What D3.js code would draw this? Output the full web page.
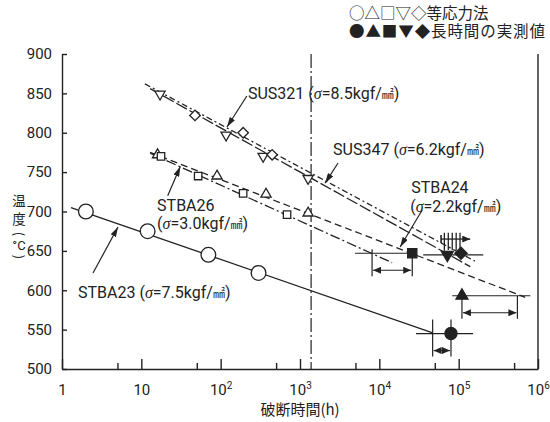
<!DOCTYPE html>
<html><head><meta charset="utf-8">
<script src="https://cdn.jsdelivr.net/npm/d3@7"></script>
<style>
body{margin:0;background:#fff}
.num{font-family:"Roboto","Liberation Sans",sans-serif}
.jp{font-family:"Noto Sans CJK JP","Noto Sans CJK SC",sans-serif}
</style></head>
<body><svg id="c" width="550" height="422"></svg>
<script>
// ---- data ----
const yTicks=[500,550,600,650,700,750,800,850,900];
const xMajor=[1,10,100,1e3,1e4,1e5,1e6];
const xMinor=[5,50,500,5e3,5e4,5e5];
const xLabels=[["1",""],["10",""],["10","2"],["10","3"],["10","4"],["10","5"],["10","6"]];
// equal-stress (open) points [hours, temp]
const stba23Pts=[[2,700],[12,675],[70,645],[300,622]];
const stba24Pts=[[16,772],[90,745],[373,722],[1265,698]];
const stba26Pts=[[17.7,770],[52,745],[192,723],[687,696]];
const sus347Pts=[[17.2,849],[117,797],[343,770],[1265,742]];
const sus321Pts=[[47.5,822],[192,800],[445,772]];
// fitted lines
const stba23Line=[[1.3,705],[4.7e4,546]];
const stba24Line=[[12.9,775],[6.9e5,591]];
const stba26Line=[[12.9,774],[1.45e4,635]];
const sus321Line=[[11.1,862],[1.6e5,637]];
const sus347Line=[[12.9,856],[1.4e5,630]];
const refHours=1380;
// long-time measured values
const measShape=["circle","triangle","square","triangleDown","diamond"];
const measHours=[8.0e4,1.1e5,2.6e4,7.2e4,1.07e5];
const measTemp=[545,593,647,645,647];
const predHours=[4.7e4,5.5e5,8.1e3,null,null];
const barFrom=[2.9e4,8.3e4,4.95e3,3.57e4,null];
const barTo=[1.52e5,8.0e5,2.8e4,2.04e5,null];
const hatchHours=[6.6e4,7.4e4,8.3e4,9.3e4,1.04e5];
const hatchTemp=[651,673];
const hatchArrow=[6.0e4,1.4e5,665];
// labels
const labels=[
 {name:"SUS321",sig:"8.5",at:[221,850.5],lead:[[214,846.7],[120,807.3]]},
 {name:"SUS347",sig:"6.2",at:[2610,779.4],lead:[[3020,761.6],[2070,736]]},
 {name:"STBA24",sig:"2.2",at:[2.52e4,731],at2:[2.45e4,707],lead:[[3.47e4,701.9],[1.83e4,655]]},
 {name:"STBA26",sig:"3.0",at:[15.8,708],at2:[15.8,685],lead:[[21.5,720],[31,757]]},
 {name:"STBA23",sig:"7.5",at:[1.59,597.7],lead:[[2.46,621.9],[5.08,680.3]]}
];

// ---- chart ----
const svg=d3.select("#c");
const ink="#222";
const x=d3.scaleLog().domain([1,1e6]).range([62,538]);
const y=d3.scaleLinear().domain([500,900]).range([369,54]);

const defs=svg.append("defs");
defs.append("marker").attr("id","ah").attr("viewBox","0 0 10 6").attr("refX",10).attr("refY",3)
 .attr("markerWidth",10).attr("markerHeight",6).attr("markerUnits","userSpaceOnUse").attr("orient","auto-start-reverse")
 .append("path").attr("d","M0,0L10,3L0,6Z").attr("fill",ink);
defs.append("marker").attr("id","ah2").attr("viewBox","0 0 8 7").attr("refX",8).attr("refY",3.5)
 .attr("markerWidth",8).attr("markerHeight",7).attr("markerUnits","userSpaceOnUse").attr("orient","auto-start-reverse")
 .append("path").attr("d","M0,0L8,3.5L0,7Z").attr("fill",ink);

// axes
const gy=svg.append("g").attr("transform",`translate(${x(1)},0)`)
 .call(d3.axisLeft(y).tickValues(yTicks).tickSize(-5).tickSizeOuter(0).tickPadding(10));
gy.selectAll("text").attr("class","num").style("font-size","15px").attr("fill",ink);
const gx=svg.append("g").attr("transform",`translate(0,${y(500)})`)
 .call(d3.axisBottom(x).tickValues(xMajor).tickSize(-10).tickSizeOuter(0).tickFormat(""));
svg.append("g").attr("transform",`translate(0,${y(500)})`)
 .call(d3.axisBottom(x).tickValues(xMinor).tickSize(-6).tickSizeOuter(0).tickFormat(""))
 .select(".domain").remove();
svg.selectAll(".domain,.tick line").attr("stroke",ink).attr("stroke-width",1.4);
gx.selectAll(".tick").each(function(d,i){
  const t=d3.select(this).append("text").attr("class","num").attr("y",26).attr("fill",ink)
   .attr("text-anchor","middle").style("font-size","15px");
  t.append("tspan").text(xLabels[i][0]);
  if(xLabels[i][1]) t.append("tspan").attr("dy",-6).style("font-size","10px").text(xLabels[i][1]);
});
svg.append("line").attr("x1",x(1e6)).attr("x2",x(1e6)).attr("y1",y(900)).attr("y2",y(500))
 .attr("stroke",ink).attr("stroke-width",1.4);

// axis titles
svg.append("text").attr("class","jp").attr("x",300).attr("y",415).attr("text-anchor","middle")
 .style("font-size","15px").attr("fill",ink).text("破断時間(h)");
[["温",206],["度",224]].forEach(([s,yy])=>{
  svg.append("text").attr("class","jp").attr("x",19).attr("y",yy).attr("text-anchor","middle")
   .style("font-size","13.5px").attr("fill",ink).text(s);
});
svg.append("text").attr("class","jp").attr("transform","translate(19,234) rotate(90)").attr("text-anchor","middle")
 .attr("dy","0.35em").style("font-size","13px").attr("fill",ink).text("(");
svg.append("text").attr("class","num").attr("x",19).attr("y",250).attr("text-anchor","middle")
 .style("font-size","13px").attr("fill",ink).text("°C");
svg.append("text").attr("class","jp").attr("transform","translate(19,257) rotate(90)").attr("text-anchor","middle")
 .attr("dy","0.35em").style("font-size","13px").attr("fill",ink).text(")");

// legend
svg.append("text").attr("class","jp").attr("x",349).attr("y",19).style("font-size","15.5px").attr("fill",ink).text("○△□▽◇等応力法");
svg.append("text").attr("class","jp").attr("x",349).attr("y",37).style("font-size","15.5px").attr("fill",ink)
 .attr("textLength",196).attr("lengthAdjust","spacing").text("●▲■▼◆長時間の実測値");

// reference vertical line
svg.append("line").attr("x1",x(refHours)).attr("x2",x(refHours)).attr("y1",y(900)).attr("y2",y(500))
 .attr("stroke",ink).attr("stroke-width",1.2).attr("stroke-dasharray","14,3,2,3");

// fitted lines
const line=d3.line().x(d=>x(d[0])).y(d=>y(d[1]));
[[stba23Line,null],[stba24Line,"7,4"],[stba26Line,"10,3,2,3"],[sus321Line,"6,3,2,3"],[sus347Line,"12,3"]]
.forEach(([d,dash])=>{
  svg.append("path").attr("d",line(d)).attr("fill","none").attr("stroke",ink).attr("stroke-width",1.3)
   .attr("stroke-dasharray",dash);
});

// symbols
function sym(shape,size){
  const m={circle:d3.symbolCircle,triangle:d3.symbolTriangle,triangleDown:d3.symbolTriangle,square:d3.symbolSquare,diamond:d3.symbolSquare};
  return d3.symbol().type(m[shape]).size(size)();
}
function rot(shape){return shape==="triangleDown"?180:shape==="diamond"?45:0;}
function drawPts(pts,shape,size,filled){
  svg.append("g").selectAll("path").data(pts).join("path")
   .attr("d",sym(shape,size))
   .attr("transform",d=>`translate(${x(d[0])},${y(d[1])}) rotate(${rot(shape)})`)
   .attr("fill",filled?ink:"#fff").attr("stroke",ink).attr("stroke-width",1.3);
}
drawPts(stba23Pts,"circle",170,false);
drawPts(stba24Pts,"triangle",45,false);
drawPts(stba26Pts,"square",55,false);
drawPts(sus347Pts,"triangleDown",45,false);
drawPts(sus321Pts,"diamond",55,false);

// measured: bars, arrows
measHours.forEach((h,i)=>{
  const Y=y(measTemp[i]);
  if(barFrom[i]!=null){
    svg.append("line").attr("x1",x(barFrom[i])).attr("x2",x(barTo[i])).attr("y1",Y).attr("y2",Y)
     .attr("stroke",ink).attr("stroke-width",1.2);
  }
  if(predHours[i]!=null){
    const up = i===0?14:i===2?4:0;
    [h,predHours[i]].forEach(hh=>{
      svg.append("line").attr("x1",x(hh)).attr("x2",x(hh)).attr("y1",Y-up).attr("y2",Y+23)
       .attr("stroke",ink).attr("stroke-width",1.2);
    });
    svg.append("line").attr("x1",x(Math.min(h,predHours[i]))+1).attr("x2",x(Math.max(h,predHours[i]))-1)
     .attr("y1",Y+17).attr("y2",Y+17).attr("stroke",ink).attr("stroke-width",1.2)
     .attr("marker-start","url(#ah2)").attr("marker-end","url(#ah2)");
  }
});
// hatch (continuing tests)
hatchHours.forEach(h=>{
  svg.append("line").attr("x1",x(h)).attr("x2",x(h)).attr("y1",y(hatchTemp[1])).attr("y2",y(hatchTemp[0]))
   .attr("stroke",ink).attr("stroke-width",1.3);
});
svg.append("line").attr("x1",x(hatchHours[0])).attr("x2",x(hatchHours[0])).attr("y1",y(hatchTemp[0])).attr("y2",y(measTemp[3])-4)
 .attr("stroke",ink).attr("stroke-width",1.3);
svg.append("line").attr("x1",x(hatchArrow[0])).attr("x2",x(hatchArrow[1])).attr("y1",y(hatchArrow[2])).attr("y2",y(hatchArrow[2]))
 .attr("stroke",ink).attr("stroke-width",1.3).attr("marker-end","url(#ah2)");
svg.append("line").attr("x1",x(hatchArrow[0])).attr("x2",x(hatchArrow[0])).attr("y1",y(hatchArrow[2])-4).attr("y2",y(hatchArrow[2])+4)
 .attr("stroke",ink).attr("stroke-width",1.6);

const measSize={circle:115,triangle:62,square:85,triangleDown:62,diamond:75};
measHours.forEach((h,i)=>{
  drawPts([[h,measTemp[i]]],measShape[i],measSize[measShape[i]],true);
});

// labels & leaders
labels.forEach(l=>{
  svg.append("line").attr("x1",x(l.lead[0][0])).attr("y1",y(l.lead[0][1]))
   .attr("x2",x(l.lead[1][0])).attr("y2",y(l.lead[1][1]))
   .attr("stroke",ink).attr("stroke-width",1.2).attr("marker-end","url(#ah)");
  const mk=(t,gap)=>{
    t.append("tspan").attr("dx",gap).text("(");
    t.append("tspan").attr("font-family","Liberation Serif,serif").attr("font-style","italic").text("σ");
    t.append("tspan").text("="+l.sig+"kgf/");
    t.append("tspan").attr("class","jp").style("font-size","12px").text("㎟");
    t.append("tspan").text(")");
  };
  const t=svg.append("text").attr("class","num").attr("x",x(l.at[0])).attr("y",y(l.at[1])).attr("dy","0.36em")
   .style("font-size","16px").attr("fill",ink);
  t.append("tspan").text(l.name);
  if(l.at2){
    const t2=svg.append("text").attr("class","num").attr("x",x(l.at2[0])).attr("y",y(l.at2[1])).attr("dy","0.36em")
     .style("font-size","16px").attr("fill",ink);
    mk(t2,0);
  } else mk(t,4);
});
</script></body></html>
